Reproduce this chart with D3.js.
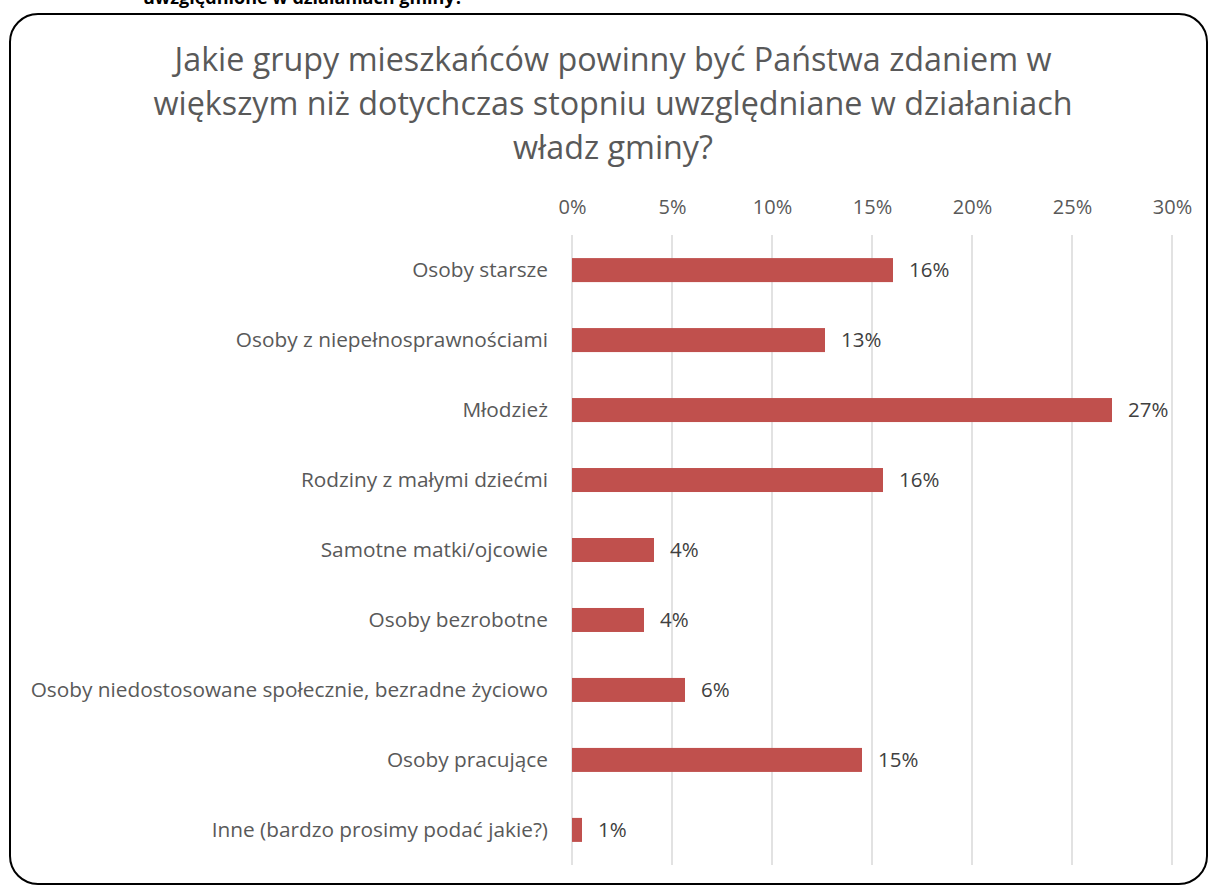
<!DOCTYPE html>
<html>
<head>
<meta charset="utf-8">
<script src="https://cdn.jsdelivr.net/npm/d3@7"></script>
<style>
    body { margin: 0; background: #fff; }
    svg { display: block; }
</style>
</head>
<body>
<div id="chart"></div>
<script>
// categories top to bottom
var categories = [
    "Osoby starsze",
    "Osoby z niepełnosprawnościami",
    "Młodzież",
    "Rodziny z małymi dziećmi",
    "Samotne matki/ojcowie",
    "Osoby bezrobotne",
    "Osoby niedostosowane społecznie, bezradne życiowo",
    "Osoby pracujące",
    "Inne (bardzo prosimy podać jakie?)"
];

// share of answers in percent
var values = [16.05, 12.65, 27.0, 15.55, 4.1, 3.6, 5.65, 14.5, 0.5];

// x axis tick values
var ticks = [0, 5, 10, 15, 20, 25, 30];

var titleLines = [
    "Jakie grupy mieszkańców powinny być Państwa zdaniem w",
    "większym niż dotychczas stopniu uwzględniane w działaniach",
    "władz gminy?"
];

var headerText = "uwzględnione w działaniach gminy?";

function init(){
    var w = 1209;
    var h = 885;
    var font = "'Open Sans', sans-serif";

    var svg = d3.select('#chart')
                .append('svg')
                .attr('width', w)
                .attr('height', h);

    // cut-off heading from the page above
    svg.append('text')
        .attr('x', 143)
        .attr('y', 4)
        .attr('font-family', font)
        .attr('font-weight', 'bold')
        .attr('font-size', 18)
        .attr('fill', '#000')
        .text(headerText);

    // rounded chart frame
    svg.append('rect')
        .attr('x', 10)
        .attr('y', 14)
        .attr('width', 1197)
        .attr('height', 870)
        .attr('rx', 28)
        .attr('fill', '#fff')
        .attr('stroke', '#000')
        .attr('stroke-width', 2);

    // title, three centred lines
    svg.append('text')
        .attr('text-anchor', 'middle')
        .attr('font-family', font)
        .attr('font-size', 32.3)
        .attr('fill', '#595959')
        .selectAll('tspan')
        .data(titleLines)
        .enter()
        .append('tspan')
        .attr('x', 613)
        .attr('y', function(d, i){
            return 71 + i * 44;
        })
        .text(function(d){ return d; });

    var xScale = d3.scaleLinear()
                    .domain([0, 30])
                    .range([572, 1172]);

    var yScale = d3.scaleBand()
                    .domain(categories)
                    .range([235, 865])
                    .paddingInner(0.657)
                    .paddingOuter(0.33);

    // gridlines
    svg.append('g')
        .selectAll('line')
        .data(ticks)
        .enter()
        .append('line')
        .attr('x1', function(d){ return xScale(d); })
        .attr('x2', function(d){ return xScale(d); })
        .attr('y1', 235)
        .attr('y2', 865)
        .attr('stroke', '#d9d9d9')
        .attr('stroke-width', 1.5);

    // top axis, labels only
    var xAxis = d3.axisTop(xScale)
                    .tickValues(ticks)
                    .tickSize(0)
                    .tickPadding(0)
                    .tickFormat(function(d){ return d + '%'; });

    var axisG = svg.append('g')
                    .attr('transform', 'translate(0,' + 214 + ')')
                    .call(xAxis);
    axisG.select('.domain').remove();
    axisG.selectAll('text')
        .attr('font-family', font)
        .attr('font-size', 20)
        .attr('fill', '#595959');

    // category labels
    svg.append('g')
        .selectAll('text')
        .data(categories)
        .enter()
        .append('text')
        .attr('x', 548)
        .attr('y', function(d){
            return yScale(d) + yScale.bandwidth() / 2;
        })
        .attr('dy', '0.35em')
        .attr('text-anchor', 'end')
        .attr('font-family', font)
        .attr('font-size', 20.8)
        .attr('fill', '#595959')
        .text(function(d){ return d; });

    // bars
    svg.append('g')
        .selectAll('rect')
        .data(values)
        .enter()
        .append('rect')
        .attr('x', xScale(0))
        .attr('y', function(d, i){
            return yScale(categories[i]);
        })
        .attr('width', function(d){
            return xScale(d) - xScale(0);
        })
        .attr('height', yScale.bandwidth())
        .attr('fill', '#c0504d');

    // value labels
    svg.append('g')
        .selectAll('text')
        .data(values)
        .enter()
        .append('text')
        .attr('x', function(d){
            return xScale(d) + 16;
        })
        .attr('y', function(d, i){
            return yScale(categories[i]) + yScale.bandwidth() / 2;
        })
        .attr('dy', '0.35em')
        .attr('font-family', font)
        .attr('font-size', 20.5)
        .attr('fill', '#404040')
        .text(function(d){
            return Math.round(d) + '%';
        });
}

window.onload = init;
</script>
</body>
</html>
